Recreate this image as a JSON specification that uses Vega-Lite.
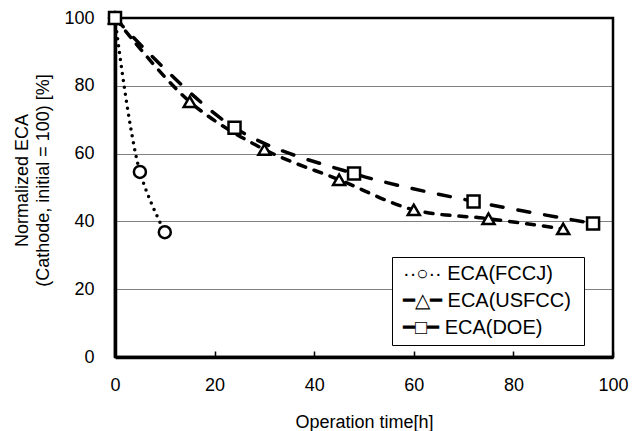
{
  "$schema": "https://vega.github.io/schema/vega-lite/v6.json",
  "width": 498,
  "height": 339,
  "autosize": "none",
  "padding": {"left": 115, "top": 18, "right": 29, "bottom": 74},
  "background": "white",
  "config": {
    "font": "Liberation Sans",
    "view": {"stroke": "black", "strokeWidth": 2.5},
    "axis": {
      "labelFont": "Liberation Sans",
      "labelFontSize": 18,
      "labelColor": "black",
      "titleFont": "Liberation Sans",
      "titleFontSize": 18,
      "titleFontWeight": "normal",
      "titleColor": "black",
      "domainColor": "black",
      "domainWidth": 3.5,
      "tickColor": "black"
    }
  },
  "data": {
    "values": [
      {"series": "ECA(FCCJ)", "time": 0, "eca": 100},
      {"series": "ECA(FCCJ)", "time": 5, "eca": 54.6},
      {"series": "ECA(FCCJ)", "time": 10, "eca": 36.8},
      {"series": "ECA(USFCC)", "time": 0, "eca": 100},
      {"series": "ECA(USFCC)", "time": 15, "eca": 75.3},
      {"series": "ECA(USFCC)", "time": 30, "eca": 61.2},
      {"series": "ECA(USFCC)", "time": 45, "eca": 52.3},
      {"series": "ECA(USFCC)", "time": 60, "eca": 43.4},
      {"series": "ECA(USFCC)", "time": 75, "eca": 40.8},
      {"series": "ECA(USFCC)", "time": 90, "eca": 37.8},
      {"series": "ECA(DOE)", "time": 0, "eca": 100},
      {"series": "ECA(DOE)", "time": 24, "eca": 67.6},
      {"series": "ECA(DOE)", "time": 48, "eca": 54.1},
      {"series": "ECA(DOE)", "time": 72, "eca": 45.9},
      {"series": "ECA(DOE)", "time": 96, "eca": 39.4}
    ]
  },
  "layer": [
    {
      "mark": {"type": "line", "color": "black", "strokeWidth": 3.5, "strokeCap": "round", "interpolate": "catmull-rom"},
      "encoding": {
        "x": {
          "field": "time", "type": "quantitative",
          "scale": {"domain": [0, 100], "nice": false},
          "axis": {"title": "Operation time[h]", "values": [0, 20, 40, 60, 80, 100], "grid": false, "tickSize": -6, "tickWidth": 1.5, "labelPadding": 25, "titlePadding": 19, "labelFlush": false}
        },
        "y": {
          "field": "eca", "type": "quantitative",
          "scale": {"domain": [0, 100], "nice": false},
          "axis": {"title": ["Normalized ECA", "(Cathode, initial = 100) [%]"], "titleY": 162, "values": [0, 20, 40, 60, 80, 100], "grid": true, "gridDash": [1, 1], "gridColor": "#000000", "gridWidth": 1, "ticks": false, "labelPadding": 21, "titlePadding": 11, "titleLineHeight": 21, "labelFlush": false}
        },
        "strokeDash": {
          "field": "series", "type": "nominal",
          "scale": {"range": [[12, 15], [0, 7], [8, 9]]},
          "legend": null
        },
        "detail": {"field": "series"}
      }
    },
    {
      "mark": {"type": "point", "filled": true, "fill": "white", "stroke": "black", "strokeWidth": 2.5, "size": 144, "opacity": 1},
      "encoding": {
        "x": {"field": "time", "type": "quantitative"},
        "y": {"field": "eca", "type": "quantitative"},
        "shape": {
          "field": "series", "type": "nominal",
          "scale": {"range": ["square", "circle", "triangle-up"]},
          "legend": null
        }
      }
    },
    {
      "transform": [{"filter": "false"}],
      "mark": {"type": "point", "filled": true, "fill": "white", "stroke": "black", "strokeWidth": 2.5, "size": 121, "opacity": 1},
      "encoding": {
        "x": {"field": "time", "type": "quantitative"},
        "y": {"field": "eca", "type": "quantitative"},
        "shape": {
          "field": "series", "type": "nominal",
          "scale": {
            "domain": ["ECA(FCCJ)", "ECA(USFCC)", "ECA(DOE)"],
            "range": ["circle", "triangle-up", "square"]
          },
          "legend": {
            "title": null,
            "orient": "none",
            "legendX": 277,
            "legendY": 239,
            "symbolSize": 121,
            "symbolStrokeWidth": 2.5,
            "symbolStrokeColor": "black",
            "symbolFillColor": "white",
            "symbolOpacity": 0,
            "labelFontSize": 20,
            "labelFont": "Liberation Sans",
            "labelColor": "black",
            "labelLimit": 300,
            "labelExpr": "datum.label == 'ECA(FCCJ)' ? '··○··  ECA(FCCJ)' : datum.label == 'ECA(USFCC)' ? '━△━  ECA(USFCC)' : '━□━  ECA(DOE)'",
            "strokeColor": "black",
            "fillColor": "white",
            "padding": 7,
            "rowPadding": 7,
            "symbolOffset": 0,
            "labelOffset": -16
          }
        }
      }
    }
  ],
  "resolve": {"scale": {"shape": "independent"}}
}
